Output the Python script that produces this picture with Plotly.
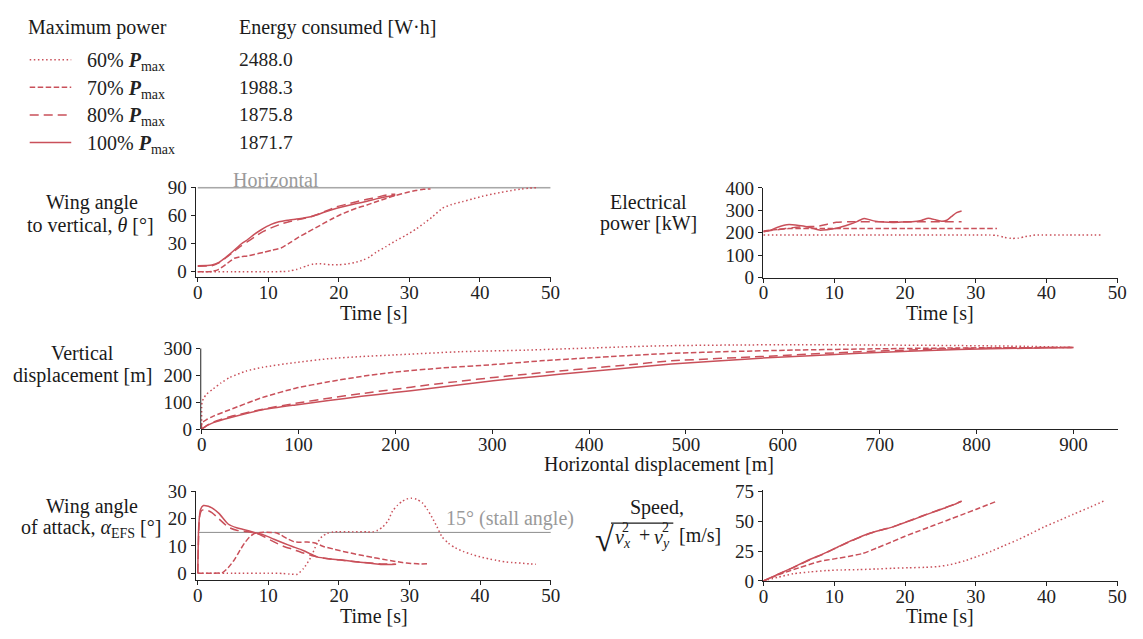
import plotly.graph_objects as go

W, H = 1143, 639
RED = "#c9505a"
GREY_LINE = "#a8a8a8"
GREY_TEXT = "#9a9a9a"
INK = "#1a1a1a"
FONT = "'Liberation Serif', 'Times New Roman', Times, 'DejaVu Serif', serif"

# ---------------------------------------------------------------- data
LEVELS = ["60%", "70%", "80%", "100%"]
ENERGY_WH = ["2488.0", "1988.3", "1875.8", "1871.7"]

HORIZONTAL_DEG = 90
STALL_DEG = 15
TIME_SPAN = [0, 50]

# wing angle to vertical, theta [deg]
THETA_T_60 = [0, 5, 10, 12, 13, 14, 14.6, 15.5, 16.4, 17.5, 18.8, 20, 21.1, 22.3, 23.5, 24.4, 25.3,
              26.7, 28.1, 29.5, 30.9, 32.1, 33.3, 34.7, 36, 37.5, 39, 40.3, 41.7, 43, 44.5, 45.9, 47, 48]
THETA_60 = [0, 0, 0, 0.3, 0.8, 2.5, 4, 6.5, 8.3, 8.5, 7.6, 7.6, 8.3, 10, 12.8, 16, 21,
            27, 33.4, 39, 45.5, 52, 59, 68, 72, 75, 78, 80.7, 83, 85, 87, 88.6, 89.5, 90]
THETA_T_70 = [0, 1, 2, 2.9, 4, 5.2, 6, 7.1, 8, 9.4, 10.5, 11.8, 13.2, 14.3, 15.5, 16.7, 17.9, 19,
              20.2, 21.3, 22.5, 24, 25.3, 26.7, 28.1, 29.5, 30.9, 32, 33]
THETA_70 = [0, 0, 0.5, 2.4, 8, 14.5, 16, 17, 18.5, 21, 23, 25.5, 31.7, 37, 42, 47, 52, 56.5,
            61, 64.5, 68, 71.5, 75, 78.5, 81.7, 84.5, 87, 88.2, 88.6]
THETA_T_80 = [0, 2, 3, 4, 5, 6, 7, 8, 9, 10.4, 12, 13.2, 15, 16.5, 18, 19.7, 21, 22.5, 24, 25.5, 27.2, 28]
THETA_80 = [6, 6.5, 9.5, 15, 21, 27, 32, 37, 42, 47, 51.5, 54, 57, 60, 64.5, 69.6, 72, 75, 77.5, 80, 82.8, 83]
THETA_T_100 = [0, 2, 3, 3.8, 5, 6.2, 7, 8, 9, 10.4, 11.5, 12.7, 14, 15, 16, 16.9, 18, 19.7, 21, 22.5,
               24, 25.3, 26.5, 27.7, 28]
THETA_100 = [6.5, 7.2, 10, 14.5, 22, 30, 34, 40, 45, 50.7, 53.5, 55.2, 56.5, 57.6, 59, 61, 64, 68, 70.5, 73,
             75.5, 78, 80, 81.7, 82]

# electrical power [kW]
POWER_T_60 = [0, 10, 20, 30, 32, 33, 34, 35, 36, 37, 38, 38.5, 43, 48]
POWER_60 = [190, 190, 190, 190, 190, 188, 180, 175, 176, 183, 188, 190, 190, 190]
POWER_T_70 = [0, 1, 2, 3, 4, 10, 20, 33]
POWER_70 = [208, 212, 215, 218, 219, 219, 219, 219]
POWER_T_80 = [0, 2, 4.2, 6, 7.9, 9, 10.3, 12, 20, 28]
POWER_80 = [206, 214, 223, 227, 230, 238, 247, 249, 249, 249]
POWER_T_100 = [0, 1, 2, 3.3, 4.5, 5.6, 7, 7.9, 9, 10.3, 11.2, 12.1, 13.2, 14.2, 15, 15.8, 17, 18.2,
               19.5, 21, 22.3, 23.3, 24.3, 25.2, 25.9, 26.6, 27.3, 28]
POWER_100 = [204, 212, 225, 236, 235, 230, 220, 212, 214, 220, 228, 237, 250, 264, 258, 252, 248, 246,
             248, 249, 255, 265, 258, 251, 256, 273, 290, 297]

# trajectory: horizontal / vertical displacement [m]
TRAJ_X_60 = [0, 0, 0.5, 2, 5, 12, 20, 29, 46, 63, 97, 131, 165, 199, 267, 335, 403, 475, 550, 611,
             700, 781, 850, 900]
TRAJ_Y_60 = [0, 90, 102, 115, 130, 150, 172, 192, 216, 230, 248, 262, 270, 276, 288, 294, 302, 310,
             313, 314, 313, 311, 308, 304]
TRAJ_X_70 = [0, 0, 5, 12, 29, 63, 97, 131, 165, 199, 250, 301, 350, 403, 485, 550, 611, 700, 781, 850, 900]
TRAJ_Y_70 = [0, 22, 35, 48, 72, 118, 152, 176, 196, 212, 228, 240, 254, 266, 282, 289, 294, 299, 302, 303, 304]
TRAJ_X_80 = [0, 5, 12, 29, 63, 97, 131, 165, 199, 233, 267, 301, 335, 369, 403, 437, 485, 577, 679,
             781, 850, 900]
TRAJ_Y_80 = [0, 13, 26, 46, 74, 96, 115, 132, 148, 164, 178, 192, 204, 216, 227, 238, 254, 270, 288,
             300, 303, 304]
TRAJ_X_100 = [0, 5, 12, 29, 63, 97, 131, 165, 199, 233, 267, 301, 335, 369, 403, 437, 485, 577, 679,
              781, 850, 900]
TRAJ_Y_100 = [0, 12, 24, 42, 72, 90, 106, 122, 136, 150, 165, 180, 192, 204, 215, 226, 242, 264, 282,
              296, 301, 304]

# wing angle of attack [deg]
AOA_T_60 = [0, 5, 10, 12, 13, 14.1, 15, 16, 16.9, 17.6, 18.3, 19.2, 20, 22, 24, 24.8, 25.5, 26.2, 27,
            27.6, 28.3, 29, 29.6, 30.2, 31, 31.8, 32.5, 33.2, 33.9, 34.6, 35.5, 36.5, 37.6, 38.8, 40,
            41.2, 42.3, 43.5, 44.6, 45.8, 47, 47.9]
AOA_60 = [0, 0, 0, -0.1, -0.3, -0.4, 1.8, 5.7, 11, 13.5, 14.6, 15.2, 15.2, 15.2, 15.2, 15.2, 15.8, 17,
          19.5, 22.9, 25, 26.5, 27.3, 27.6, 27.2, 25.9, 23.5, 20.5, 17, 13.4, 11, 9.3, 8, 6.9, 6, 5.3,
          4.7, 4.2, 3.9, 3.7, 3.4, 3.3]
AOA_T_70 = [0, 2, 3.5, 4.3, 5.2, 6, 6.6, 7.3, 8, 9, 10.4, 11.2, 11.8, 12.6, 13.6, 14.5, 15.5, 16.6,
            17.8, 19.2, 20.6, 22, 23.4, 24.8, 26.2, 27.6, 29, 30.2, 31.4, 32.8]
AOA_70 = [0, 0, 0.2, 2, 5, 8.5, 11, 13.2, 14.6, 15, 15, 14.8, 14, 12.8, 11.6, 11.4, 11.5, 11.1, 9.8,
          8.9, 8, 7.2, 6.5, 5.8, 5.1, 4.5, 3.9, 3.6, 3.4, 3.5]
AOA_T_80 = [0, 0.15, 0.3, 0.6, 1.5, 2, 3, 4.3, 5.5, 7.1, 8.3, 9.4, 10.8, 12.2, 13.4, 14.6, 15.8, 16.9,
            18.5, 20.2, 22, 24, 26, 28]
AOA_80 = [0, 16, 21.5, 23.2, 23, 22.3, 20, 17, 15.8, 15.2, 14.7, 13.4, 11.5, 9.8, 8.8, 7.7, 6.8, 6,
          5.3, 4.8, 4.3, 3.8, 3.4, 3.3]
AOA_T_100 = [0, 0.15, 0.4, 0.8, 1.5, 2, 3, 4.3, 5.5, 6.6, 8, 9.4, 10.8, 12.2, 13.4, 14.6, 15.8, 16.9,
             18.5, 20.2, 21.8, 23.4, 25, 26.2, 27.2, 28.1]
AOA_100 = [0, 18, 23.5, 24.9, 24.6, 24, 22, 18.1, 16.7, 16, 15, 14, 12.5, 11, 9.8, 8.7, 7.3, 6, 5.3,
           4.9, 4.4, 3.9, 3.5, 3.2, 3.2, 3.3]

# speed [m/s]
SPEED_T_60 = [0, 2, 4.2, 6.5, 8.9, 11, 13.5, 16, 18.2, 20.5, 22.8, 24.5, 26.1, 27.3, 28.4, 30.3, 32.2,
              34, 35.9, 37.8, 39.6, 41.7, 43.8, 46, 48.2]
SPEED_60 = [0, 3, 6, 7.5, 8.7, 9.2, 9.5, 10, 10.6, 11, 11.4, 12, 13.3, 15, 16.8, 20.7, 24.9, 29.6, 34.4,
            39.8, 45.2, 50.5, 56, 61.5, 67.4]
SPEED_T_70 = [0, 2, 5, 8, 10, 12, 14, 16, 18, 20, 22, 24, 26, 28, 30, 33]
SPEED_70 = [0, 5, 11, 16.5, 18.5, 20.5, 23, 27.6, 32.5, 37.5, 42, 46.5, 51, 55.5, 60, 67]
SPEED_T_80 = [0, 2, 4.2, 6, 8.9, 10.5, 12.1, 13.5, 14.9, 16.5, 18.2, 19.5, 21, 22.4, 23.8, 25.5, 27, 28]
SPEED_80 = [0, 5.4, 11.2, 16.2, 23.8, 28.4, 32.8, 36.4, 39.6, 42.6, 45.4, 48.2, 51.4, 54.5, 57.6, 61.2,
            64.5, 67]
SPEED_T_100 = [0, 2, 4.2, 6, 8.9, 10.5, 12.1, 13.5, 14.9, 16.5, 18.2, 19.5, 21, 22.4, 23.8, 25.5, 27, 28]
SPEED_100 = [0, 5.5, 11.4, 16.5, 24, 28.5, 33, 36.5, 39.8, 42.5, 45.2, 48, 51.2, 54.3, 57.4, 61, 64.3, 66.9]

# ---------------------------------------------------------------- styling
DASH = {"60%": "1.5px,2.6px", "70%": "5.5px,2.5px", "80%": "9px,5px", "100%": "solid"}
LW = 1.5


def span(pa, pb, a, b, r0, r1):
    """Pixel positions of the range ends, given the pixels of two values."""
    k = (pb - pa) / (b - a)
    return pa + (r0 - a) * k, pa + (r1 - a) * k


def xdom(pa, pb, a, b, r):
    lo, hi = span(pa, pb, a, b, r[0], r[1])
    return [lo / W, hi / W]


def ydom(pa, pb, a, b, r):
    lo, hi = span(pa, pb, a, b, r[0], r[1])
    return [1 - lo / H, 1 - hi / H]


fig = go.Figure()

panels = {
    # name: (x range, y range, x pixel anchors, y pixel anchors)
    "1": ([-0.3, 50.1], [-5.5, 91], (196, 552.7, 0, 50), (270.7, 183.7, 0, 90)),
    "2": ([-0.1, 50.1], [0, 402], (768.3, 1126, 0, 50), (276.7, 184, 0, 400)),
    "3": ([-1, 946], [0, 320], (200, 1081.7, 0, 900), (433.3, 350, 0, 300)),
    "4": ([-0.3, 50.1], [-2.6, 30.3], (196, 553, 0, 50), (582.3, 498, 0, 30)),
    "5": ([-0.1, 50.1], [0, 76], (768.3, 1126, 0, 50), (590.3, 498, 0, 75)),
}
ytick_vals = {"1": [0, 30, 60, 90], "2": [0, 100, 200, 300, 400], "3": [0, 100, 200, 300],
              "4": [0, 10, 20, 30], "5": [0, 25, 50, 75]}
xtick_vals = {"1": list(range(0, 51, 10)), "2": list(range(0, 51, 10)), "3": list(range(0, 901, 100)),
              "4": list(range(0, 51, 10)), "5": list(range(0, 51, 10))}

tickfont = dict(family=FONT, size=19, color="#222")
axis_common = dict(showgrid=False, zeroline=False, showline=True, linecolor="#222", linewidth=1,
                   ticks="outside", ticklen=4, tickwidth=1, tickcolor="#222", tickfont=tickfont,
                   fixedrange=True)

layout_axes = {}
for key, (xr, yr, xa, ya) in panels.items():
    xs = "xaxis" if key == "1" else f"xaxis{key}"
    ys = "yaxis" if key == "1" else f"yaxis{key}"
    xname = "x" if key == "1" else f"x{key}"
    yname = "y" if key == "1" else f"y{key}"
    layout_axes[xs] = dict(axis_common, domain=xdom(xa[0], xa[1], xa[2], xa[3], xr), range=xr,
                           anchor=yname, tickvals=xtick_vals[key], ticklabelstandoff=-6)
    layout_axes[ys] = dict(axis_common, domain=ydom(ya[0], ya[1], ya[2], ya[3], yr), range=yr,
                           anchor=xname, tickvals=ytick_vals[key])
layout_axes["yaxis3"]["showline"] = False

# reference lines
fig.add_trace(go.Scatter(x=TIME_SPAN, y=[HORIZONTAL_DEG] * 2, xaxis="x", yaxis="y", mode="lines",
                         line=dict(color=GREY_LINE, width=1.6), hoverinfo="skip", showlegend=False))
fig.add_trace(go.Scatter(x=TIME_SPAN, y=[STALL_DEG] * 2, xaxis="x4", yaxis="y4", mode="lines",
                         line=dict(color="#8c8c8c", width=1), hoverinfo="skip", showlegend=False))

series = {
    "1": [(THETA_T_60, THETA_60), (THETA_T_70, THETA_70), (THETA_T_80, THETA_80), (THETA_T_100, THETA_100)],
    "2": [(POWER_T_60, POWER_60), (POWER_T_70, POWER_70), (POWER_T_80, POWER_80), (POWER_T_100, POWER_100)],
    "3": [(TRAJ_X_60, TRAJ_Y_60), (TRAJ_X_70, TRAJ_Y_70), (TRAJ_X_80, TRAJ_Y_80), (TRAJ_X_100, TRAJ_Y_100)],
    "4": [(AOA_T_60, AOA_60), (AOA_T_70, AOA_70), (AOA_T_80, AOA_80), (AOA_T_100, AOA_100)],
    "5": [(SPEED_T_60, SPEED_60), (SPEED_T_70, SPEED_70), (SPEED_T_80, SPEED_80), (SPEED_T_100, SPEED_100)],
}
for key, curves in series.items():
    xname = "x" if key == "1" else f"x{key}"
    yname = "y" if key == "1" else f"y{key}"
    for level, (xv, yv) in zip(LEVELS, curves):
        fig.add_trace(go.Scatter(x=xv, y=yv, xaxis=xname, yaxis=yname, mode="lines",
                                 line=dict(color=RED, width=LW, dash=DASH[level], shape="spline",
                                           smoothing=0.6),
                                 name=level, showlegend=False))

annotations = []
shapes = []


def ann(text, px, py, size=20, color=INK, xanchor="center", yanchor="middle", **kw):
    annotations.append(dict(text=text, x=px / W, y=1 - py / H, xref="paper", yref="paper",
                            xanchor=xanchor, yanchor=yanchor, showarrow=False,
                            font=dict(family=FONT, size=size, color=color), **kw))


# legend table
ann("Maximum power", 22, 18, xanchor="left")
ann("Energy consumed [W·h]", 236, 18, xanchor="left")
row_y = [51.5, 80, 108.5, 137]
for level, energy, ry in zip(LEVELS, ENERGY_WH, row_y):
    ann(f"{level} <b><i>P</i></b><sub>max</sub>", 82, ry + 2, xanchor="left", color="#222")
    ann(energy, 236, ry, size=19.5, xanchor="left", color="#222")
    shapes.append(dict(type="line", xref="paper", yref="paper", x0=26 / W, x1=68 / W,
                       y0=1 - ry / H, y1=1 - ry / H,
                       line=dict(color=RED, width=LW, dash=DASH[level])))

# y-axis titles
ann("Wing angle", 89, 199)
ann("to vertical, <i>θ</i> [°]", 88, 222)
ann("Electrical", 652, 199)
ann("power [kW]", 652, 221)
ann("Vertical", 79, 355)
ann("displacement [m]", 79, 378)
ann("Wing angle", 89, 513)
ann("of attack, <i>α</i><sub>EFS</sub> [°]", 87.5, 536)
ann("Speed,", 661, 514)
ann("√", 607, 547, size=34)
ann("<i>v</i><sub><i>x</i></sub>", 616, 546, xanchor="left")
ann("2", 629, 535, size=14)
ann("+", 647.5, 543)
ann("<i>v</i><sub><i>y</i></sub>", 655, 546, xanchor="left")
ann("2", 669, 535, size=14)
ann("[m/s]", 681, 543, xanchor="left")
shapes.append(dict(type="line", xref="paper", yref="paper", x0=614 / W, x1=677 / W,
                   y0=1 - 530.5 / H, y1=1 - 530.5 / H, line=dict(color=INK, width=1.2)))

# x-axis titles
ann("Time [s]", 374, 313)
ann("Time [s]", 947, 313)
ann("Horizontal displacement [m]", 663, 470)
ann("Time [s]", 374.5, 627)
ann("Time [s]", 947, 627)

# in-plot labels
annotations.append(dict(text="Horizontal", x=11.1, y=HORIZONTAL_DEG, xref="x", yref="y",
                        xanchor="center", yanchor="bottom", yshift=-5, showarrow=False,
                        font=dict(family=FONT, size=20, color=GREY_TEXT)))
annotations.append(dict(text="15° (stall angle)", x=44.3, y=STALL_DEG, xref="x4", yref="y4",
                        xanchor="center", yanchor="bottom", yshift=0, showarrow=False,
                        font=dict(family=FONT, size=20, color=GREY_TEXT)))

# bounded left spine of the trajectory panel
shapes.append(dict(type="line", xref="x3 domain", yref="y3", x0=0, x1=0, y0=0, y1=300,
                   line=dict(color="#222", width=1)))

fig.update_layout(
    width=W, height=H, autosize=False,
    margin=dict(l=0, r=0, t=0, b=0),
    paper_bgcolor="white", plot_bgcolor="white",
    font=dict(family=FONT, size=19, color=INK),
    showlegend=False,
    annotations=annotations, shapes=shapes,
    **layout_axes,
)

fig.write_html("out.html")
